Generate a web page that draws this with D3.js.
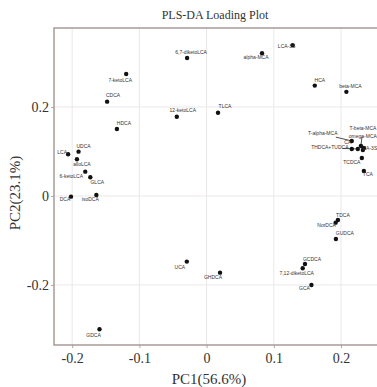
<!DOCTYPE html>
<html>
<head>
<meta charset="utf-8">
<script src="https://cdn.jsdelivr.net/npm/d3@7"></script>
<style>
  html, body { margin: 0; padding: 0; background: #fff; }
  svg { display: block; }
</style>
</head>
<body>
<svg id="chart" width="377" height="387"></svg>
<script>
// Loadings of each bile acid on the first two PLS-DA components
const names = [
  "6,7-diketoLCA", "LCA-3S", "alpha-MCA", "HCA", "beta-MCA", "7-ketoLCA",
  "CDCA", "12-ketoLCA", "TLCA", "HDCA", "UDCA", "LCA", "alloLCA",
  "6-ketoLCA", "GLCA", "DCA", "isoDCA", "T-alpha-MCA", "CA", "THDCA+TUDCA",
  "T-beta-MCA", "omega-MCA", "CA-3S", "TCDCA", "TCA", "TDCA", "NorDCA",
  "GUDCA", "GCDCA", "7,12-diketoLCA", "GCA", "GHDCA", "UCA", "GDCA"
];
const pc1 = [
  -0.029, 0.128, 0.0825, 0.161, 0.208, -0.1196,
  -0.148, -0.0443, 0.017, -0.1334, -0.1905, -0.206, -0.1929,
  -0.1805, -0.173, -0.2017, -0.164, 0.216, 0.216, 0.225,
  0.2296, 0.234, 0.2325, 0.231, 0.234, 0.1954, 0.192,
  0.1924, 0.1464, 0.143, 0.156, 0.020, -0.0294, -0.1593
];
const pc2 = [
  0.310, 0.339, 0.321, 0.248, 0.234, 0.274,
  0.212, 0.178, 0.187, 0.1506, 0.0996, 0.0937, 0.0825,
  0.0546, 0.042, -0.0016, 0.0022, 0.1236, 0.1056, 0.1056,
  0.1124, 0.108, 0.1034, 0.0854, 0.0562, -0.054, -0.060,
  -0.0966, -0.153, -0.1625, -0.200, -0.1724, -0.1476, -0.2996
];
const xTicks = [-0.2, -0.1, 0, 0.1, 0.2];
const yTicks = [-0.2, 0, 0.2];
const title = "PLS-DA Loading Plot";
const xTitle = "PC1(56.6%)";
const yTitle = "PC2(23.1%)";

// label placement (offset of label centre from its point, px); third item = leader line
const labelNudge = {
  "6,7-diketoLCA": [4, -5], "LCA-3S": [-6, 2], "alpha-MCA": [-6, 5], "HCA": [5, -5],
  "beta-MCA": [4, -5], "7-ketoLCA": [-6, 7], "CDCA": [6, -6], "12-ketoLCA": [6, -6],
  "TLCA": [7, -6], "HDCA": [7, -5], "UDCA": [5, -5], "LCA": [-6, -2], "alloLCA": [5, 5],
  "6-ketoLCA": [-14, 5], "GLCA": [7, 5], "DCA": [-6, 3], "isoDCA": [-6, 5],
  "T-alpha-MCA": [-29, -7, true], "CA": [-4, -6], "THDCA+TUDCA": [-28, -1, true],
  "T-beta-MCA": [2, -17, true], "omega-MCA": [-1, -11], "CA-3S": [7, -1],
  "TCDCA": [-10, 5], "TCA": [4, 4, true], "TDCA": [5, -4], "NorDCA": [-9, 3],
  "GUDCA": [9, -5], "GCDCA": [7, -4], "7,12-diketoLCA": [-6, 5], "GCA": [-7, 4],
  "GHDCA": [-7, 5], "UCA": [-7, 6], "GDCA": [-6, 6]
};

const svg = d3.select("#chart");
const panel = { left: 54, right: 380, top: 28, bottom: 345 };

const x = d3.scaleLinear().domain([-0.227, 0.258]).range([panel.left, panel.right]);
const y = d3.scaleLinear().domain([-0.335, 0.3775]).range([panel.bottom, panel.top]);

const serif = "'Liberation Serif', 'Times New Roman', serif";

// title
svg.append("text")
  .attr("x", 215).attr("y", 19)
  .attr("text-anchor", "middle")
  .attr("font-family", serif).attr("font-size", 12)
  .attr("fill", "#333")
  .text(title);

const defs = svg.append("defs");
defs.append("clipPath").attr("id", "clip")
  .append("rect")
  .attr("x", panel.left).attr("y", panel.top)
  .attr("width", panel.right - panel.left).attr("height", panel.bottom - panel.top);

// faint grid
const grid = svg.append("g").attr("clip-path", "url(#clip)");
grid.selectAll("line.gx").data(xTicks).join("line")
  .attr("x1", d => x(d)).attr("x2", d => x(d))
  .attr("y1", panel.top).attr("y2", panel.bottom)
  .attr("stroke", "#ebe7e7").attr("stroke-width", 1);
grid.selectAll("line.gy").data(yTicks).join("line")
  .attr("y1", d => y(d)).attr("y2", d => y(d))
  .attr("x1", panel.left).attr("x2", panel.right)
  .attr("stroke", "#ebe7e7").attr("stroke-width", 1);

// axes
const fmt = d => d === 0 ? "0" : d3.format(".1f")(d).replace("−", "-");
const xAxis = d3.axisBottom(x).tickValues(xTicks).tickSize(3).tickPadding(5).tickFormat(fmt);
const yAxis = d3.axisLeft(y).tickValues(yTicks).tickSize(3).tickPadding(2).tickFormat(fmt);

const gx = svg.append("g").attr("transform", `translate(0,${panel.bottom})`).call(xAxis);
const gy = svg.append("g").attr("transform", `translate(${panel.left},0)`).call(yAxis);
[gx, gy].forEach(g => {
  g.select(".domain").remove();
  g.selectAll(".tick line").attr("stroke", "#b0a6a4");
  g.selectAll(".tick text")
    .attr("font-family", serif).attr("font-size", 14).attr("fill", "#333");
});

// panel border
svg.append("rect")
  .attr("x", panel.left).attr("y", panel.top)
  .attr("width", panel.right - panel.left).attr("height", panel.bottom - panel.top)
  .attr("fill", "none").attr("stroke", "#a89a97").attr("stroke-width", 1.5);

// axis titles
svg.append("text")
  .attr("x", 209).attr("y", 384)
  .attr("text-anchor", "middle")
  .attr("font-family", serif).attr("font-size", 15).attr("fill", "#333")
  .text(xTitle);
svg.append("text")
  .attr("transform", "translate(20,193) rotate(-90)")
  .attr("text-anchor", "middle")
  .attr("font-family", serif).attr("font-size", 15).attr("fill", "#333")
  .text(yTitle);

// points and labels
const data = names.map((n, i) => ({ name: n, v1: pc1[i], v2: pc2[i] }));
const marks = svg.append("g").attr("clip-path", "url(#clip)");

marks.selectAll("line.lead").data(data.filter(d => (labelNudge[d.name] || [])[2])).join("line")
  .attr("x1", d => x(d.v1)).attr("y1", d => y(d.v2))
  .attr("x2", d => x(d.v1) + labelNudge[d.name][0] * 0.55)
  .attr("y2", d => y(d.v2) + labelNudge[d.name][1] * 0.55)
  .attr("stroke", "#222").attr("stroke-width", 0.8);

marks.selectAll("circle").data(data).join("circle")
  .attr("cx", d => x(d.v1)).attr("cy", d => y(d.v2))
  .attr("r", 2.2).attr("fill", "#111");

marks.selectAll("text.lbl").data(data).join("text")
  .attr("class", "lbl")
  .attr("x", d => x(d.v1) + (labelNudge[d.name] || [0, 0])[0])
  .attr("y", d => y(d.v2) + (labelNudge[d.name] || [0, 0])[1])
  .attr("text-anchor", "middle").attr("dominant-baseline", "middle")
  .attr("font-family", "'Liberation Sans', Arial, sans-serif")
  .attr("font-size", 5).attr("fill", "#333")
  .text(d => d.name);
</script>
</body>
</html>
